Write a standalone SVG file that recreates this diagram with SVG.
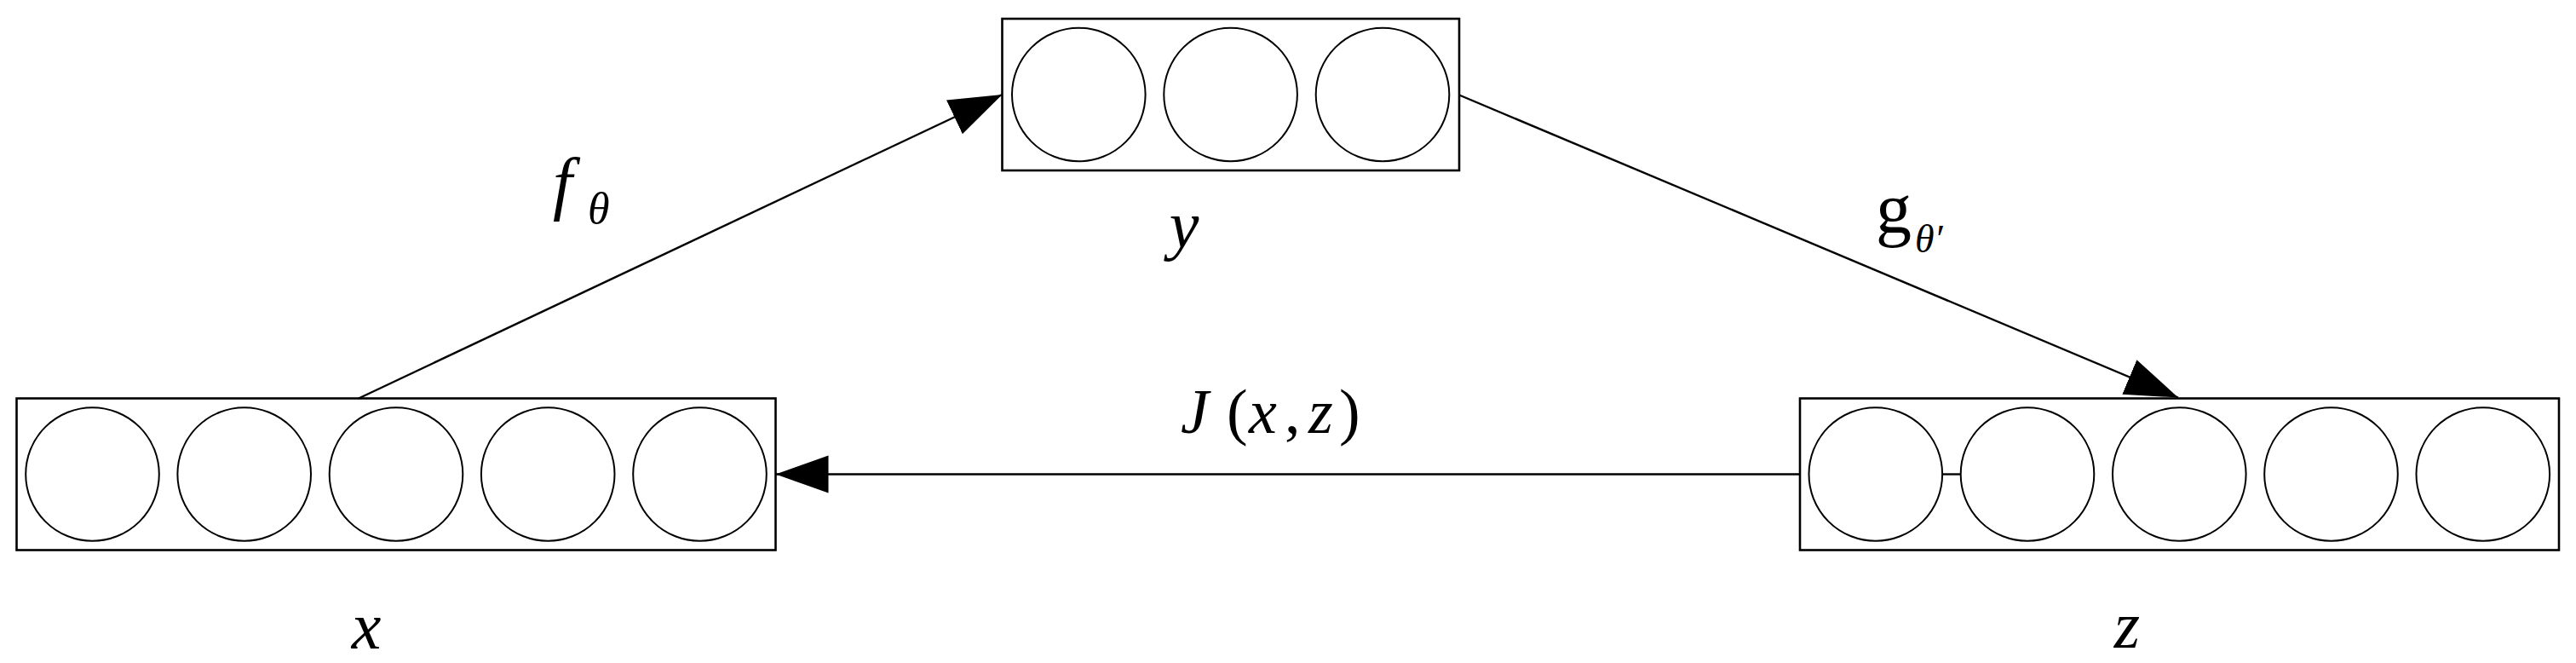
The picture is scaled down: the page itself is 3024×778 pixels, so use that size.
<svg xmlns="http://www.w3.org/2000/svg" width="3024" height="778" viewBox="0 0 3024 778">
<style>
.box{fill:none;stroke:#000;stroke-width:2.6}
.unit{fill:#fff;stroke:#000;stroke-width:2}
.conn{fill:none;stroke:#000;stroke-width:2.4}
.m{font-family:"Liberation Serif","Times New Roman",serif;font-style:italic;fill:#000}
.r{font-style:normal}
</style>
<defs>
<marker id="ah" markerUnits="userSpaceOnUse" markerWidth="64" markerHeight="46" refX="62" refY="22" orient="auto">
<path d="M0,0 L62,22 L0,44 z" fill="#000"/>
</marker>
</defs>
<rect width="3024" height="778" fill="#fff"/>
<g id="connectors">
<line class="conn" x1="421" y1="467.5" x2="1176.5" y2="111" marker-end="url(#ah)"/>
<line class="conn" x1="1713" y1="111.5" x2="2557" y2="466.5" marker-end="url(#ah)"/>
<line class="conn" x1="2113" y1="556.5" x2="910.5" y2="556.5" marker-end="url(#ah)"/>
<line class="conn" x1="2280" y1="556.5" x2="2302" y2="556.5"/>
</g>
<g id="node-x">
<rect class="box" x="19.5" y="467.5" width="891" height="178"/>
<circle class="unit" cx="108.5" cy="556.5" r="78.3"/>
<circle class="unit" cx="286.7" cy="556.5" r="78.3"/>
<circle class="unit" cx="465" cy="556.5" r="78.3"/>
<circle class="unit" cx="643.2" cy="556.5" r="78.3"/>
<circle class="unit" cx="821.5" cy="556.5" r="78.3"/>
<text class="m" x="430" y="761" font-size="78" text-anchor="middle">x</text>
</g>
<g id="node-y">
<rect class="box" x="1176.5" y="22" width="536.5" height="178"/>
<circle class="unit" cx="1266.3" cy="111" r="78.3"/>
<circle class="unit" cx="1444.6" cy="111" r="78.3"/>
<circle class="unit" cx="1623" cy="111" r="78.3"/>
<text class="m" x="1390" y="290" font-size="78" text-anchor="middle">y</text>
</g>
<g id="node-z">
<rect class="box" x="2113" y="467.5" width="891" height="178"/>
<circle class="unit" cx="2201.8" cy="556.5" r="78.3"/>
<circle class="unit" cx="2380" cy="556.5" r="78.3"/>
<circle class="unit" cx="2558.3" cy="556.5" r="78.3"/>
<circle class="unit" cx="2736.5" cy="556.5" r="78.3"/>
<circle class="unit" cx="2914.8" cy="556.5" r="78.3"/>
<text class="m" x="2497" y="760" font-size="78" text-anchor="middle">z</text>
</g>
<g id="label-f">
<text class="m" x="649" y="242" font-size="82">f</text>
<text class="m" x="690" y="262" font-size="52">θ</text>
</g>
<g id="label-g">
<text class="m r" x="2202" y="273" font-size="84">g</text>
<text class="m" x="2248" y="296" font-size="46">θ′</text>
</g>
<g id="label-J">
<text class="m" font-size="74" y="508"><tspan x="1386">J</tspan><tspan class="r" x="1440">(</tspan><tspan x="1466">x</tspan><tspan class="r" x="1508">,</tspan><tspan x="1536">z</tspan><tspan class="r" x="1572">)</tspan></text>
</g>
</svg>
